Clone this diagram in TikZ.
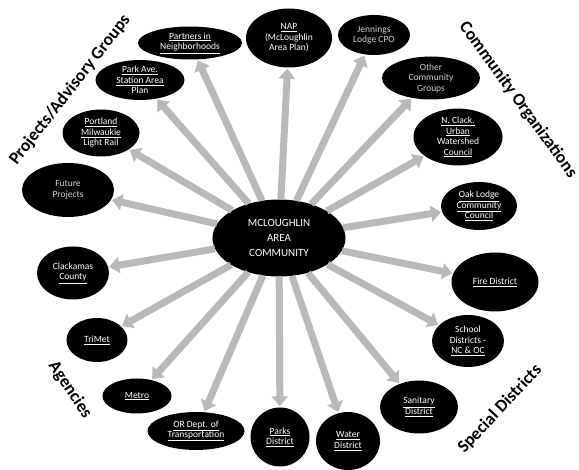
\documentclass[tikz,border=0pt]{standalone}
\usepackage{fontspec}
\setmainfont{Carlito}
\usetikzlibrary{arrows.meta, shapes.geometric}

\begin{document}
\begin{tikzpicture}[x=1pt,y=-1pt,
    every edge/.style={draw=gray!55, line width=7pt, -{Triangle[width=16pt,length=10pt]}, shorten >=1pt},
    blob/.style={ellipse, fill=black, text=white, inner sep=0pt, align=center, font=\fontsize{9.5}{10.5}\selectfont},
    dim/.style={text=gray!35},
    group/.style={font=\fontsize{17.5}{19}\selectfont\bfseries}]
                \useasboundingbox (0,0) rectangle (579,470);

                \node[blob, minimum width=133pt, minimum height=77pt, font=\fontsize{11}{15}\selectfont] (cen) at (279,238) {MCLOUGHLIN\\AREA\\COMMUNITY};

                \node[blob, minimum width=104pt, minimum height=33pt] (pin) at (190,43) {\underline{Partners in}\\\underline{Neighborhoods}};
                \node[blob, minimum width=86pt, minimum height=59pt] (nap) at (289,38) {\underline{NAP}\\(McLoughlin\\Area Plan)};
                \node[blob, dim, minimum width=72pt, minimum height=40pt] (jen) at (374,35) {Jennings\\Lodge CPO};
                \node[blob, dim, minimum width=98pt, minimum height=43pt] (ocg) at (431,78) {Other\\Community\\Groups};
                \node[blob, minimum width=89pt, minimum height=55pt] (ncu) at (458,137) {\underline{N. Clack.}\\\underline{Urban}\\Watershed\\\underline{Council}};
                \node[blob, minimum width=76pt, minimum height=48pt] (olc) at (479,206) {\underline{Oak Lodge}\\\underline{Community}\\\underline{Council}};
                \node[blob, minimum width=87pt, minimum height=59pt] (fir) at (495,282) {\underline{Fire District}};
                \node[blob, minimum width=72pt, minimum height=52pt] (sch) at (468,341) {School\\Districts -\\\underline{NC \& OC}};
                \node[blob, minimum width=78pt, minimum height=53pt] (san) at (419,407) {\underline{Sanitary}\\\underline{District}};
                \node[blob, minimum width=64pt, minimum height=58pt] (wat) at (348,441) {\underline{Water}\\\underline{District}};
                \node[blob, minimum width=59pt, minimum height=59pt] (par) at (280,437) {\underline{Parks}\\\underline{District}};
                \node[blob, minimum width=97pt, minimum height=38pt] (odt) at (196,431) {\underline{OR Dept. of}\\\underline{Transportation}};
                \node[blob, minimum width=69pt, minimum height=35pt] (met) at (137,396) {\underline{Metro}};
                \node[blob, minimum width=61pt, minimum height=44pt] (tri) at (97,340) {\underline{TriMet}};
                \node[blob, minimum width=72pt, minimum height=53pt] (clc) at (73,273) {Clackamas\\\underline{County}};
                \node[blob, dim, minimum width=92pt, minimum height=54pt] (fut) at (68,190) {Future\\Projects};
                \node[blob, minimum width=77pt, minimum height=47pt] (pml) at (101,133) {\underline{Portland}\\\underline{Milwaukie}\\Light Rail};
                \node[blob, minimum width=89pt, minimum height=40pt] (pas) at (140,80) {\underline{Park Ave.}\\\underline{Station Area}\\Plan};

                % group headings
                \node[group, rotate=52] (pag) at (70,90) {Projects/Advisory Groups};
                \node[group, rotate=-54] (cor) at (518,100) {Community Organizations};
                \node[group, rotate=-56] (age) at (70,390) {Agencies};
                \node[group, rotate=47] (spd) at (500,409) {Special Districts};

                \path
                (cen) edge (pin)
                      edge (nap)
                      edge (jen)
                      edge (ocg)
                      edge (ncu)
                      edge (olc)
                      edge (fir)
                      edge (sch)
                      edge (san)
                      edge (wat)
                      edge (par)
                      edge (odt)
                      edge (met)
                      edge (tri)
                      edge (clc)
                      edge (fut)
                      edge (pml)
                      edge (pas)
                ;
            \end{tikzpicture}
\end{document}
